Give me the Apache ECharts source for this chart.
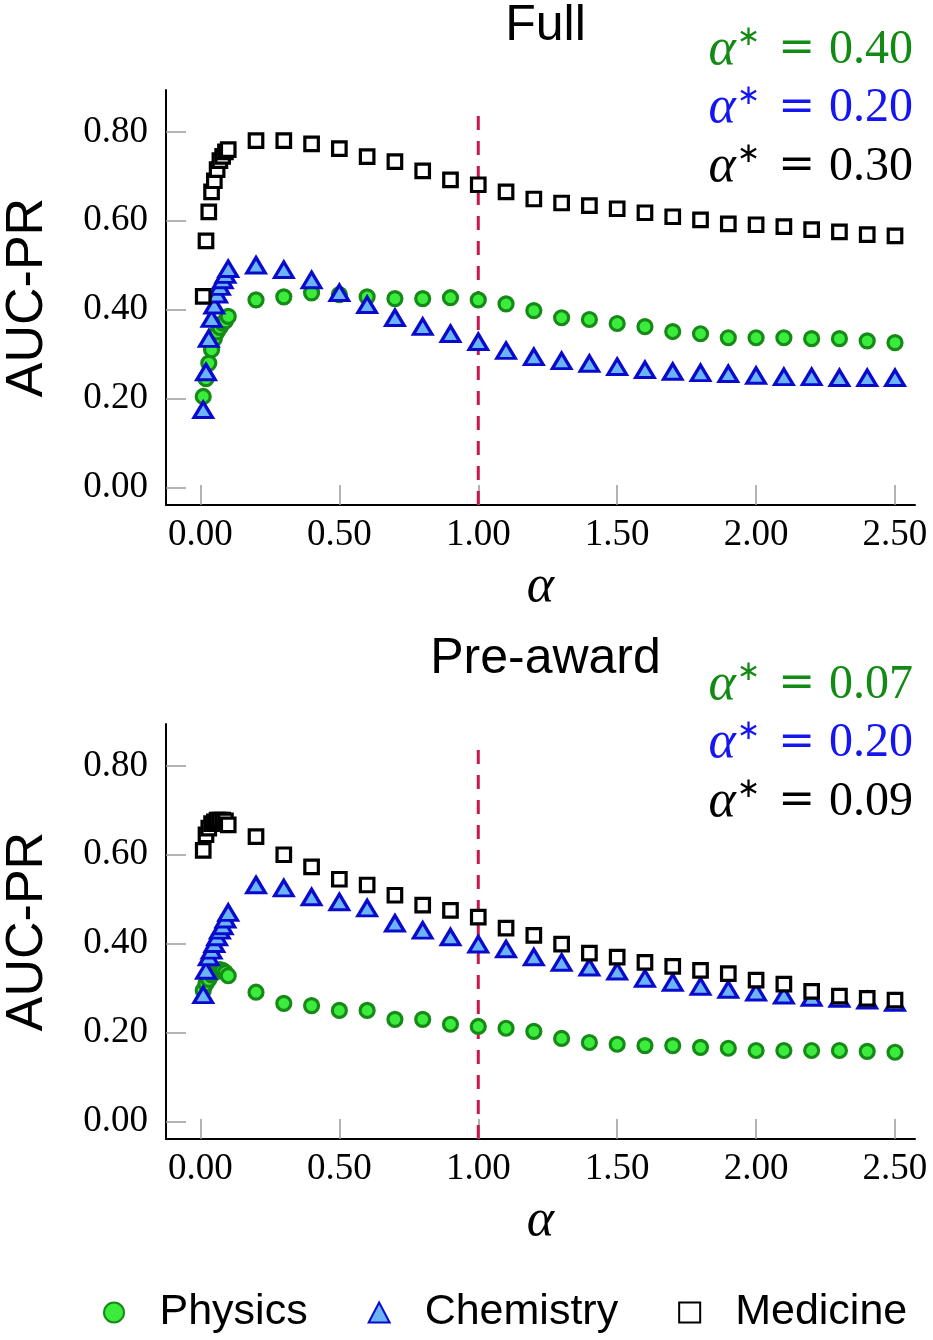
<!DOCTYPE html>
<html>
<head>
<meta charset="utf-8">
<script src="https://cdn.jsdelivr.net/npm/echarts@6/dist/echarts.min.js"></script>
<style>html,body{margin:0;padding:0;background:#fff}#c{width:933px;height:1340px}</style>
</head>
<body>
<div id="c"></div>
<script>
const alphaValues = [0.01,0.02,0.03,0.04,0.05,0.06,0.07,0.08,0.09,0.10,
  0.2,0.3,0.4,0.5,0.6,0.7,0.8,0.9,1.0,1.1,1.2,1.3,1.4,1.5,1.6,1.7,1.8,1.9,2.0,2.1,2.2,2.3,2.4,2.5];

const physicsFull = [0.205,0.245,0.28,0.31,0.335,0.35,0.36,0.37,0.375,0.385,
  0.422,0.429,0.438,0.434,0.429,0.425,0.425,0.427,0.422,0.413,0.398,0.382,0.378,0.369,0.362,0.351,0.346,0.337,0.337,0.337,0.335,0.335,0.330,0.326];
const chemistryFull = [0.175,0.26,0.335,0.38,0.41,0.435,0.452,0.467,0.479,0.492,
  0.50,0.49,0.467,0.438,0.411,0.382,0.362,0.346,0.328,0.308,0.294,0.285,0.279,0.272,0.265,0.261,0.258,0.256,0.252,0.249,0.249,0.247,0.247,0.247];
const medicineFull = [0.43,0.555,0.62,0.665,0.69,0.715,0.735,0.745,0.755,0.76,
  0.78,0.78,0.773,0.762,0.744,0.733,0.712,0.692,0.681,0.665,0.649,0.640,0.634,0.627,0.618,0.609,0.602,0.593,0.591,0.587,0.580,0.575,0.569,0.566];

const physicsPre = [0.295,0.31,0.32,0.33,0.335,0.34,0.342,0.34,0.335,0.328,
  0.291,0.266,0.261,0.25,0.25,0.23,0.23,0.219,0.214,0.21,0.203,0.187,0.178,0.174,0.171,0.171,0.167,0.165,0.16,0.16,0.16,0.16,0.158,0.156];
const chemistryPre = [0.285,0.34,0.37,0.385,0.40,0.415,0.43,0.44,0.455,0.47,
  0.532,0.525,0.505,0.494,0.48,0.446,0.43,0.415,0.399,0.388,0.37,0.358,0.347,0.338,0.322,0.313,0.304,0.297,0.291,0.284,0.279,0.277,0.273,0.268];
const medicinePre = [0.61,0.645,0.66,0.67,0.674,0.678,0.678,0.678,0.676,0.667,
  0.641,0.60,0.573,0.545,0.532,0.509,0.487,0.475,0.46,0.435,0.419,0.399,0.379,0.37,0.358,0.349,0.34,0.333,0.318,0.309,0.293,0.282,0.277,0.273];

const xTicks = [0,0.5,1.0,1.5,2.0,2.5];
const yTicks = [0,0.2,0.4,0.6,0.8];
const xRange = [-0.124, 2.572];
const yRange = [-0.039, 0.894];
const refAlpha = 1.0;
const refTop = 0.853;

const panelTitles = ['Full','Pre-award'];
const optimaFull = ['0.40','0.20','0.30'];
const optimaPre = ['0.07','0.20','0.09'];
const seriesNames = ['Physics','Chemistry','Medicine'];

const styles = {
  Physics: {symbol:'circle', symbolSize:14, itemStyle:{color:'#3cec3c', borderColor:'#168a16', borderWidth:3.2, opacity:1}},
  Chemistry: {symbol:'triangle', symbolSize:[18.5,15.5], itemStyle:{color:'#6cb4f8', borderColor:'#0a0acc', borderWidth:3.2, opacity:1}},
  Medicine: {symbol:'rect', symbolSize:13.5, itemStyle:{color:'#ffffff', borderColor:'#000000', borderWidth:3.2, opacity:1}}
};
const textColors = ['#138a13','#1515f0','#000000'];

const grids = [
  {left:166, top:90, width:749, height:415, containLabel:false, outerBoundsMode:'none'},
  {left:166, top:724, width:749, height:415, containLabel:false, outerBoundsMode:'none'}
];

function mkX(i){
  return {
    type:'value', gridIndex:i, min:xRange[0], max:xRange[1],
    axisLine:{show:true, onZero:false, lineStyle:{color:'#000', width:2}},
    axisTick:{show:true, inside:true, length:20, customValues:xTicks, lineStyle:{color:'#9a9a9a', width:1.5}},
    axisLabel:{show:true, customValues:xTicks, margin:12, formatter:v=>v.toFixed(2),
      fontFamily:'Liberation Serif', fontSize:37, color:'#000'},
    splitLine:{show:false},
    name:'α', nameLocation:'middle', nameGap:56,
    nameTextStyle:{fontFamily:'Liberation Serif', fontStyle:'italic', fontSize:52, color:'#000'}
  };
}
function mkY(i){
  return {
    type:'value', gridIndex:i, min:yRange[0], max:yRange[1],
    axisLine:{show:true, onZero:false, lineStyle:{color:'#000', width:2}},
    axisTick:{show:true, inside:true, length:20, customValues:yTicks, lineStyle:{color:'#9a9a9a', width:1.5}},
    axisLabel:{show:true, customValues:yTicks, margin:18, formatter:v=>v.toFixed(2),
      fontFamily:'Liberation Serif', fontSize:37, color:'#000'},
    splitLine:{show:false},
    name:'AUC-PR', nameLocation:'middle', nameGap:112,
    nameTextStyle:{fontFamily:'Liberation Sans', fontSize:52, color:'#000'}
  };
}

function pairs(vals){ return alphaValues.map((a,k)=>[a, vals[k]]); }

const panelData = [
  [physicsFull, chemistryFull, medicineFull],
  [physicsPre, chemistryPre, medicinePre]
];

const series = [];
panelData.forEach((set, i)=>{
  series.push({
    type:'line', xAxisIndex:i, yAxisIndex:i, z:1, silent:true,
    data:[[refAlpha, yRange[0]],[refAlpha, refTop]],
    symbol:'none', lineStyle:{color:'#c8174b', width:3, type:[14,11]}
  });
  set.forEach((vals, j)=>{
    const nm = seriesNames[j];
    series.push(Object.assign({
      type:'scatter', name:nm, xAxisIndex:i, yAxisIndex:i, z:2+j,
      data:pairs(vals)
    }, JSON.parse(JSON.stringify(styles[nm]))));
  });
});

function annot(vals, baseTop){
  const out = [];
  vals.forEach((v, j)=>{
    out.push({
      type:'text', right:20, top:baseTop + j*58.5,
      style:{
        text:'{a|α}{s|∗}{e|=}{n|' + v + '}',
        fill:textColors[j],
        rich:{
          a:{fontFamily:'Liberation Serif', fontStyle:'italic', fontSize:52, fill:textColors[j], verticalAlign:'bottom'},
          s:{fontFamily:'DejaVu Sans', fontSize:28, fill:textColors[j], verticalAlign:'top', padding:[0,0,0,1]},
          e:{fontFamily:'DejaVu Serif', fontSize:44, fill:textColors[j], padding:[0,14,0,18]},
          n:{fontFamily:'Liberation Serif', fontSize:48, fill:textColors[j]}
        }
      }
    });
  });
  return out;
}

const chart = echarts.init(document.getElementById('c'), null, {renderer:'canvas'});
chart.setOption({
  animation:false,
  backgroundColor:'#ffffff',
  title:[
    {text:panelTitles[0], left:540.5, textAlign:'center', top:-4, textStyle:{fontFamily:'Liberation Sans', fontSize:50, fontWeight:'normal', color:'#000'}},
    {text:panelTitles[1], left:540.5, textAlign:'center', top:629, textStyle:{fontFamily:'Liberation Sans', fontSize:50, fontWeight:'normal', color:'#000'}}
  ],
  grid:grids,
  xAxis:[mkX(0), mkX(1)],
  yAxis:[mkY(0), mkY(1)],
  legend:{
    data:seriesNames, left:98, top:1286, itemWidth:21, itemHeight:20, itemGap:60,
    textStyle:{fontFamily:'Liberation Sans', fontSize:43, color:'#000', padding:[0,0,0,30]}
  },
  graphic:annot(optimaFull, 24).concat(annot(optimaPre, 659)),
  series:series
});
</script>
</body>
</html>
